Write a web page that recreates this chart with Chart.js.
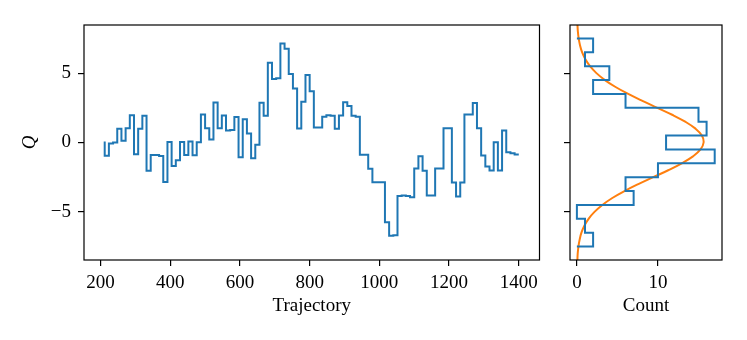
<!DOCTYPE html>
<html>
<head>
<meta charset="utf-8">
<script src="https://cdn.jsdelivr.net/npm/chart.js@4/dist/chart.umd.min.js"></script>
<style>
html, body { margin: 0; padding: 0; background: #fff; }
#wrap { position: relative; width: 747px; height: 340px; }
#wrap canvas { position: absolute; top: 0; }
</style>
</head>
<body>
<div id="wrap">
  <canvas id="trace" width="555" height="340" style="left:0;width:555px;height:340px"></canvas>
  <canvas id="hist" width="192" height="340" style="left:555px;width:192px;height:340px"></canvas>
</div>
<script>
// trajectory numbers (x) and topological charge Q
var trajectory = [212,224,236,248,260,272,284,296,308,320,
                  332,344,356,368,380,392,404,416,428,440,
                  452,464,476,488,500,512,524,536,548,560,
                  572,584,596,608,620,632,644,656,668,680,
                  692,704,716,728,740,752,764,776,788,800,
                  812,824,836,848,860,872,884,896,908,920,
                  932,944,956,968,980,992,1004,1016,1028,1040,
                  1052,1064,1076,1088,1100,1112,1124,1136,1148,1160,
                  1172,1184,1196,1208,1220,1232,1244,1256,1268,1280,
                  1292,1304,1316,1328,1340,1352,1364,1376,1388,1400];
var charge = [0.07,-0.96,-0.08,0.0,1.0,0.12,1.03,1.97,-0.84,0.99,
              1.92,-2.04,-0.90,-0.90,-0.98,-2.85,0.04,-1.70,-1.28,0.04,
              -0.90,0.07,-0.92,0.02,2.02,1.03,0.22,2.88,1.03,1.95,
              0.87,0.91,1.83,-1.07,1.68,0.65,-1.13,-0.17,2.86,1.92,
              5.74,4.57,4.64,7.14,6.75,4.93,3.90,1.01,2.94,4.87,
              3.70,1.08,1.08,1.85,1.96,1.93,0.99,1.95,2.91,2.64,
              1.92,1.85,-0.89,-0.89,-1.90,-2.86,-2.86,-2.86,-5.75,-6.73,
              -6.68,-3.85,-3.82,-3.85,-3.94,-1.88,-0.99,-2.04,-3.82,-3.82,
              -1.88,-1.88,1.03,1.03,-2.88,-3.89,-2.88,2.02,2.02,2.84,
              1.03,-0.94,-1.73,-2.02,0.02,-2.02,0.87,-0.70,-0.77,-0.87];

// histogram: bin centres (Q) and counts
var histQ      = [-7,-6,-5,-4,-3,-2,-1,0,1,2,3,4,5,6,7];
var histCounts = [ 2, 1, 0, 7, 6,10,17,11,16,15,6,2,4,1,2];

// fitted normal curve, read as points
var gaussQ     = [-8.5,-8,-7.5,-7,-6.5,-6,-5.5,-5,-4.5,-4,-3.5,-3,-2.5,-2,-1.5,-1,-0.5,0,
                  0.5,1,1.5,2,2.5,3,3.5,4,4.5,5,5.5,6,6.5,7,7.5,8,8.5];
var gaussCount = [0.06,0.10,0.19,0.34,0.56,0.92,1.44,2.17,3.14,4.37,5.87,7.58,9.41,11.26,12.94,14.32,15.25,15.63,
                  15.42,14.63,13.36,11.75,9.93,8.08,6.33,4.77,3.46,2.41,1.62,1.05,0.65,0.39,0.22,0.12,0.07];

var xTicks = [200,400,600,800,1000,1200,1400];
var yTicks = [-5,0,5];
var countTicks = [0,10];

var blue = '#1f77b4', orange = '#ff7f0e';
var serif = "'Liberation Serif', 'DejaVu Serif', serif";

Chart.defaults.font.family = serif;
Chart.defaults.font.size = 19;
Chart.defaults.color = '#000';

var frame = {
  id: 'frame',
  afterDatasetsDraw: function(chart) {
    var a = chart.chartArea, ctx = chart.ctx;
    ctx.save();
    ctx.strokeStyle = '#000';
    ctx.lineWidth = 1.2;
    ctx.strokeRect(a.left, a.top, a.right - a.left, a.bottom - a.top);
    ctx.restore();
  }
};

function fixTicks(list) {
  return function(scale) { scale.ticks = list.map(function(v) { return {value: v}; }); };
}
var tickGrid = {drawOnChartArea: false, drawTicks: true, tickLength: 6, color: '#000', lineWidth: 1.2};
function fmt(v) { return v < 0 ? '\u2212' + Math.abs(v) : String(v); }

var tracePts = trajectory.map(function(t, i) { return {x: t, y: charge[i]}; });

new Chart(document.getElementById('trace'), {
  type: 'scatter',
  data: {datasets: [{
    data: tracePts, showLine: true, stepped: 'after',
    borderColor: blue, borderWidth: 2, pointRadius: 0, fill: false
  }]},
  options: {
    responsive: false, animation: false, devicePixelRatio: 1,
    layout: {padding: {top: 25, right: 15.5, left: 0, bottom: 0}},
    plugins: {legend: {display: false}, tooltip: {enabled: false}},
    scales: {
      x: {
        type: 'linear', min: 152.6, max: 1459.4,
        afterBuildTicks: fixTicks(xTicks),
        afterFit: function(s) { s.height = 80; },
        grid: tickGrid, border: {display: false},
        ticks: {padding: 6, maxRotation: 0, callback: fmt},
        title: {display: true, text: 'Trajectory', padding: {top: 0, bottom: 23}}
      },
      y: {
        min: -8.47, max: 8.47,
        afterBuildTicks: fixTicks(yTicks),
        afterFit: function(s) { s.width = 84; },
        grid: tickGrid, border: {display: false},
        ticks: {padding: 7, callback: fmt},
        title: {display: true, text: 'Q', font: {style: 'italic'}, padding: {top: 18.5, bottom: 0}}
      }
    }
  },
  plugins: [frame]
});

// step outline of the sideways histogram, built from the bins
var histPts = [{x: 0, y: histQ[0] - 0.5}];
histQ.forEach(function(q, i) {
  histPts.push({x: histCounts[i], y: q - 0.5});
  histPts.push({x: histCounts[i], y: q + 0.5});
});
histPts.push({x: 0, y: histQ[histQ.length - 1] + 0.5});

var gaussPts = gaussQ.map(function(q, i) { return {x: gaussCount[i], y: q}; });

new Chart(document.getElementById('hist'), {
  type: 'scatter',
  data: {datasets: [
    {data: histPts, showLine: true, borderColor: blue, borderWidth: 2, pointRadius: 0, tension: 0},
    {data: gaussPts, showLine: true, borderColor: orange, borderWidth: 2, pointRadius: 0, tension: 0.4}
  ]},
  options: {
    responsive: false, animation: false, devicePixelRatio: 1,
    layout: {padding: {top: 25, right: 25, left: 0, bottom: 0}},
    plugins: {legend: {display: false}, tooltip: {enabled: false}},
    scales: {
      x: {
        type: 'linear', min: -0.85, max: 17.9,
        afterBuildTicks: fixTicks(countTicks),
        afterFit: function(s) { s.height = 80; },
        grid: tickGrid, border: {display: false},
        ticks: {padding: 6, maxRotation: 0, callback: fmt},
        title: {display: true, text: 'Count', padding: {top: 0, bottom: 23}}
      },
      y: {
        min: -8.47, max: 8.47,
        afterBuildTicks: fixTicks(yTicks),
        afterFit: function(s) { s.width = 15; },
        grid: tickGrid, border: {display: false},
        ticks: {callback: function() { return ''; }}
      }
    }
  },
  plugins: [frame]
});
</script>
</body>
</html>
